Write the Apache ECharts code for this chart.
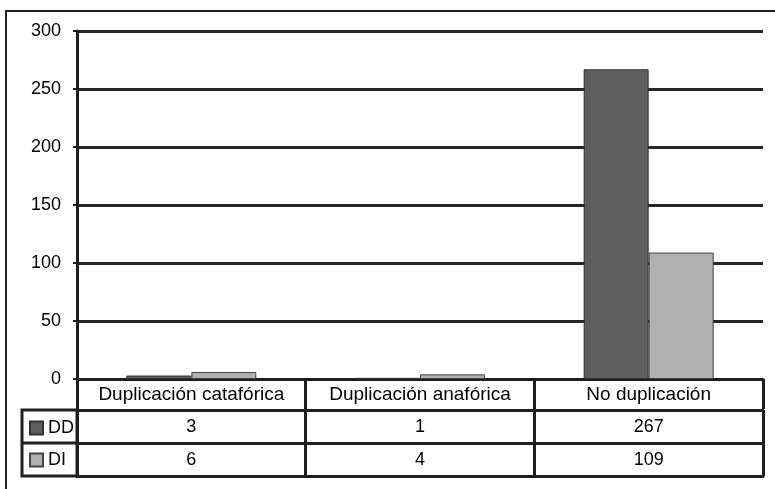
<!DOCTYPE html>
<html><head><meta charset="utf-8">
<script src="https://cdn.jsdelivr.net/npm/echarts@6/dist/echarts.min.js"></script>
<style>html,body{margin:0;padding:0;background:#fff}#c{width:775px;height:489px}</style>
</head><body><div id="c"></div>
<script>
const categories = ['Duplicación catafórica', 'Duplicación anafórica', 'No duplicación'];
const seriesNames = ['DD', 'DI'];
const ddValues = [3, 1, 267];
const diValues = [6, 4, 109];
const yTicks = { min: 0, max: 300, interval: 50 };

const FONT = '"Liberation Sans", Arial, sans-serif';
const LINE = '#1e1e1e';
const chart = echarts.init(document.getElementById('c'), null, { renderer: 'canvas' });

function rowAxis(data, offset, tickLen, showLabel, margin, size) {
  return {
    type: 'category', data: data, position: 'bottom', offset: offset,
    axisLine: { show: true, lineStyle: { color: LINE, width: 3 } },
    axisTick: { show: tickLen > 0, length: tickLen, interval: 0, lineStyle: { color: LINE, width: 3 } },
    axisLabel: { show: showLabel, interval: 0, fontFamily: FONT, fontSize: size, color: '#000', margin: margin },
    splitLine: { show: false }
  };
}

chart.setOption({
  animation: false,
  backgroundColor: '#fff',
  grid: { left: 77, right: 12, top: 31, bottom: 110, containLabel: false },
  legend: {
    orient: 'vertical', left: 24, top: 414, itemWidth: 13, itemHeight: 13, itemGap: 14,
    icon: 'rect', selectedMode: false,
    textStyle: { fontFamily: FONT, fontSize: 18, color: '#000' },
    data: seriesNames
  },
  xAxis: [
    rowAxis(categories, 0, 30, true, 6, 19),
    rowAxis(ddValues.map(String), 31, 33, true, 8, 18),
    rowAxis(diValues.map(String), 64, 33, true, 8, 18),
    rowAxis(categories, 97, 0, false, 0, 18)
  ],
  yAxis: {
    type: 'value', min: yTicks.min, max: yTicks.max, interval: yTicks.interval,
    axisLine: { show: true, lineStyle: { color: LINE, width: 3 } },
    axisTick: { show: true, length: 4, lineStyle: { color: LINE, width: 2 } },
    axisLabel: { fontFamily: FONT, fontSize: 18, color: '#000', margin: 16 },
    splitLine: { show: true, lineStyle: { color: '#262626', width: 3 } }
  },
  series: [
    { name: seriesNames[0], type: 'bar', data: ddValues, barWidth: 65, barGap: '0%',
      itemStyle: { color: '#5e5e5e', borderColor: '#333', borderWidth: 1 } },
    { name: seriesNames[1], type: 'bar', data: diValues, barWidth: 65, barGap: '0%',
      itemStyle: { color: '#b0b0b0', borderColor: '#444', borderWidth: 1 } }
  ],
  graphic: [
    { type: 'rect', shape: { x: 6, y: 11, width: 820, height: 520 },
      style: { fill: 'none', stroke: '#222', lineWidth: 2 }, silent: true },
    { type: 'polyline', shape: { points: [[77, 410], [22, 410], [22, 476], [77, 476]] },
      style: { fill: 'none', stroke: LINE, lineWidth: 3 }, silent: true },
    { type: 'line', shape: { x1: 22, y1: 443, x2: 77, y2: 443 },
      style: { stroke: LINE, lineWidth: 3 }, silent: true },
    { type: 'line', shape: { x1: 77, y1: 410, x2: 77, y2: 476 },
      style: { stroke: LINE, lineWidth: 3 }, silent: true }
  ]
});
</script></body></html>
